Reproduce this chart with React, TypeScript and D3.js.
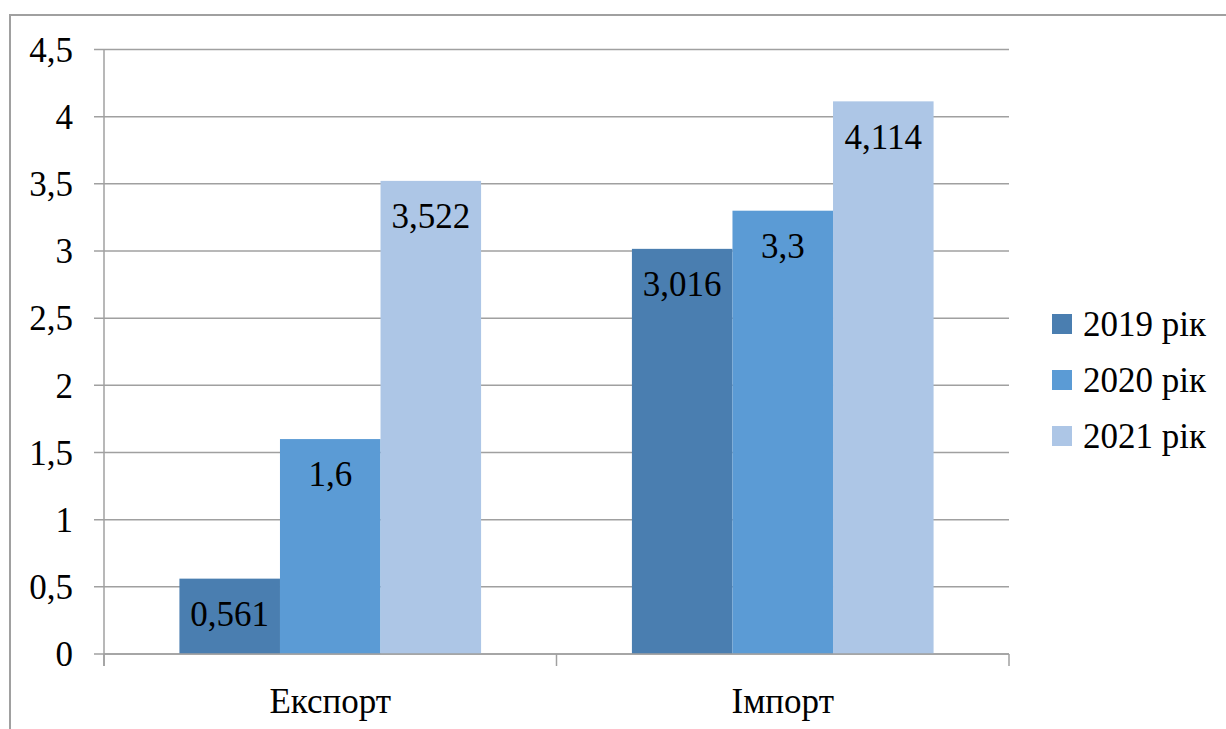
import React from "react";
import * as d3 from "d3";

const categories = ["Експорт", "Імпорт"];
const seriesNames = ["2019 рік", "2020 рік", "2021 рік"];
const values2019 = [0.561, 3.016];
const values2020 = [1.6, 3.3];
const values2021 = [3.522, 4.114];
const valueLabels2019 = ["0,561", "3,016"];
const valueLabels2020 = ["1,6", "3,3"];
const valueLabels2021 = ["3,522", "4,114"];
const yTicks = [0, 0.5, 1, 1.5, 2, 2.5, 3, 3.5, 4, 4.5];

const colors = ["#4a7eb0", "#5b9bd5", "#adc6e6"];
const series = [values2019, values2020, values2021];
const seriesLabels = [valueLabels2019, valueLabels2020, valueLabels2021];

const W = 1226;
const H = 729;
const left = 104;
const right = 1009;
const top = 49.5;
const bottom = 654;
const grid = "#a0a0a0";
const textStyle = { fontFamily: "'Times New Roman', Tinos, 'DejaVu Serif'", fontSize: "35px" };

export default function App() {
  const y = d3.scaleLinear().domain([0, 4.5]).range([bottom, top]);
  const x0 = d3.scaleBand<string>().domain(categories).range([left, right]).paddingInner(0).paddingOuter(0);
  const bw = x0.bandwidth();
  // three bars per category plus a 150% gap split on both sides
  const groupW = bw / (3 + 1.5);
  const x1 = d3
    .scaleBand<number>()
    .domain([0, 1, 2])
    .range([0, groupW * 3])
    .padding(0);
  const fmt = (v: number) => String(v).replace(".", ",");

  return (
    <svg width={W} height={H} style={{ position: "absolute", left: 0, top: 0, background: "#fff" }}>
      <rect x={10} y={15} width={W + 20} height={H + 20} fill="#fff" stroke={grid} strokeWidth={2} />
      {yTicks.map((t) => (
        <g key={t}>
          <line x1={left - 10} x2={right} y1={y(t)} y2={y(t)} stroke={grid} strokeWidth={1.5} />
          <text x={73} y={y(t)} dy="0.35em" textAnchor="end" style={textStyle} fill="#000">
            {fmt(t)}
          </text>
        </g>
      ))}
      <line x1={left} x2={left} y1={top} y2={bottom + 12} stroke={grid} strokeWidth={1.5} />
      {categories.map((c, ci) => {
        const gx = (x0(c) as number) + (bw - groupW * 3) / 2;
        return (
          <g key={c}>
            {series.map((vals, si) => {
              const bx = gx + (x1(si) as number);
              const by = y(vals[ci]);
              return (
                <g key={si}>
                  <rect x={bx} y={by} width={x1.bandwidth()} height={bottom - by} fill={colors[si]} />
                  <text
                    x={bx + x1.bandwidth() / 2}
                    y={by + 35}
                    dy="0.35em"
                    textAnchor="middle"
                    style={textStyle}
                    fill="#000"
                  >
                    {seriesLabels[si][ci]}
                  </text>
                </g>
              );
            })}
            <text x={(x0(c) as number) + bw / 2} y={701} dy="0.35em" textAnchor="middle" style={textStyle} fill="#000">
              {c}
            </text>
          </g>
        );
      })}
      <line x1={left} x2={right} y1={bottom} y2={bottom} stroke={grid} strokeWidth={1.5} />
      {[left, left + bw, right].map((tx, i) => (
        <line key={i} x1={tx} x2={tx} y1={bottom} y2={bottom + 12} stroke={grid} strokeWidth={1.5} />
      ))}
      {seriesNames.map((n, i) => {
        const ly = 324 + i * 56;
        return (
          <g key={n}>
            <rect x={1052} y={ly - 10} width={20} height={20} fill={colors[i]} />
            <text x={1083} y={ly} dy="0.35em" style={textStyle} fill="#000">
              {n}
            </text>
          </g>
        );
      })}
    </svg>
  );
}
